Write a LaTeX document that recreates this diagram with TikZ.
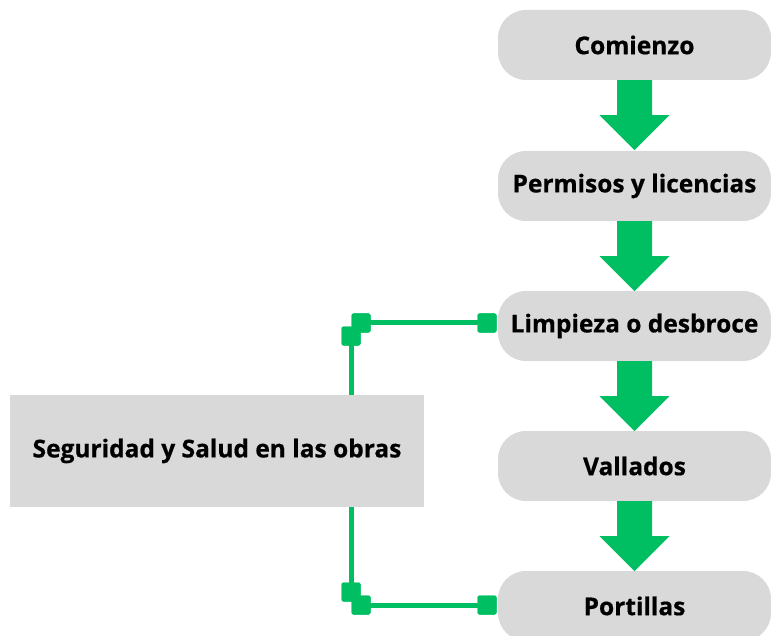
\documentclass[tikz,border=0pt]{standalone}
\usepackage{fontspec}
\setmainfont{Open Sans}[BoldFeatures={FakeBold=0.6}]
\usetikzlibrary{calc}
\definecolor{boxgray}{HTML}{D9D9D9}
\definecolor{flowgreen}{HTML}{00BF63}
\tikzset{
  x=1pt, y=1pt,
  pill/.style={fill=boxgray, rounded corners=28pt, minimum width=273pt, minimum height=70pt, inner sep=0pt, font=\bfseries\fontsize{24.5}{28}\selectfont},
  sidebox/.style={fill=boxgray, minimum width=414pt, minimum height=112pt, inner sep=0pt, font=\bfseries\fontsize{24.5}{28}\selectfont},
  marker/.style={fill=flowgreen, rounded corners=2pt, minimum size=19pt, inner sep=0pt},
  link/.style={draw=flowgreen, line width=5pt},
}
\newcommand{\flowarrow}[1]{%
  \fill[flowgreen] ($(#1.south)+(-17.5,0)$) -- ++(0,-35) -- ++(-17.5,0)
    -- ($(#1.south)+(0,-70)$) -- ($(#1.south)+(35,-35)$) -- ++(-17.5,0)
    -- ($(#1.south)+(17.5,0)$) -- cycle;}
\begin{document}
\begin{tikzpicture}
\useasboundingbox (0,0) rectangle (771,-636);
\node[pill] (c) at (634.5,-45) {Comienzo};
\node[pill] (p) at (634.5,-186) {Permisos y licencias};
\node[pill] (l) at (634.5,-326) {Limpieza o desbroce};
\node[pill] (v) at (634.5,-466) {Vallados};
\node[pill] (o) at (634.5,-606) {Portillas};
\node[sidebox] (s) at (217,-451) {Seguridad y Salud en las obras};
\flowarrow{c}
\flowarrow{p}
\flowarrow{l}
\flowarrow{v}
% upper connector
\node[marker] (u1) at (351,-336) {};
\node[marker] (u2) at (361,-323) {};
\node[marker] (u3) at (487,-323) {};
\draw[link] (s.north -| u1) -- (u1.center);
\draw[link] (u2.center) -- (u3.center);
\node[marker] at (351,-336) {};
\node[marker] at (361,-323) {};
\node[marker] at (487,-323) {};
% lower connector
\node[marker] (d1) at (351,-592) {};
\node[marker] (d2) at (361,-605) {};
\node[marker] (d3) at (487,-605) {};
\draw[link] (s.south -| d1) -- (d1.center);
\draw[link] (d2.center) -- (d3.center);
\node[marker] at (351,-592) {};
\node[marker] at (361,-605) {};
\node[marker] at (487,-605) {};
\end{tikzpicture}
\end{document}
